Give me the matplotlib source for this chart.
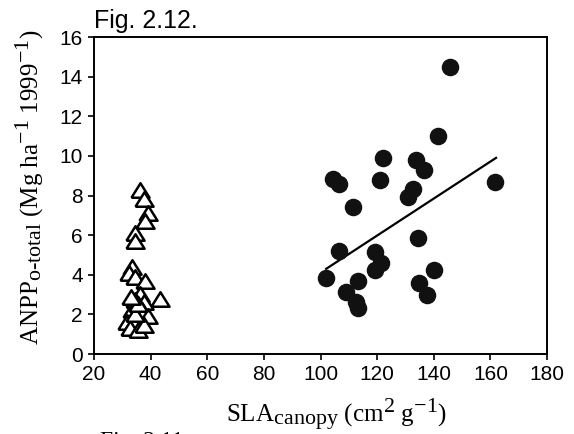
import numpy as np
import matplotlib
matplotlib.use("Agg")
import matplotlib.pyplot as plt
import matplotlib._mathtext as mt

# SLA canopy (x) vs ANPP o-total (y)
tri_sla = [36.1, 37.5, 39.2, 38.1, 34.5, 34.5, 33.4, 32.5, 34.5, 38.1, 43.4,
           36.3, 34.5, 37.5, 33.4, 36.9, 39.2, 31.6, 34.5, 32.8, 35.7, 37.5,
           34.5, 35.7, 33.0]
tri_anpp = [8.3, 7.8, 7.1, 6.7, 6.1, 5.7, 4.4, 4.1, 3.9, 3.7, 2.8,
            3.05, 2.75, 2.65, 2.2, 2.2, 1.9, 1.6, 1.6, 1.3, 1.2, 1.45,
            2.0, 2.5, 2.9]

dot_sla = [145.6, 141.4, 121.9, 133.7, 136.7, 104.4, 106.5, 120.9, 161.5,
           132.5, 130.8, 111.5, 106.5, 134.3, 119.2, 121.3, 119.2, 102.1,
           113.3, 140.0, 108.9, 112.4, 113.4, 134.9, 137.5]
dot_anpp = [14.5, 11.0, 9.9, 9.8, 9.3, 8.85, 8.6, 8.8, 8.7,
            8.35, 7.95, 7.4, 5.2, 5.85, 5.15, 4.6, 4.25, 3.85,
            3.7, 4.25, 3.15, 2.65, 2.3, 3.6, 3.0]

# fitted line for the circles (endpoints as drawn)
fit_sla = [102, 162]
fit_anpp = [4.3, 9.9]

# sub/superscripts in the original are only a bit smaller than the text
mt.SHRINK_FACTOR = 0.88

plt.rcParams['mathtext.fontset'] = 'custom'
plt.rcParams['mathtext.rm'] = 'Liberation Serif'
plt.rcParams['mathtext.it'] = 'Liberation Serif'
plt.rcParams['mathtext.default'] = 'regular'

fig = plt.figure(figsize=(5.74, 4.34), dpi=100)
ax = fig.add_axes([0.1638, 0.1843, 0.7892, 0.7304])

tri = [(-1, -0.8), (1, -0.8), (0, 0.8), (-1, -0.8)]
ax.scatter(tri_sla, tri_anpp, marker=tri, s=170, facecolors='white',
           edgecolors='black', linewidths=1.8, zorder=3)
ax.scatter(dot_sla, dot_anpp, marker='o', s=135, color='#111111', zorder=3)
ax.plot(fit_sla, fit_anpp, color='black', lw=1.6, zorder=2)

ax.set_xlim(20, 180)
ax.set_ylim(0, 16)
ax.set_xticks(np.arange(20, 181, 20))
ax.set_yticks(np.arange(0, 17, 2))
ax.tick_params(direction='out', length=4, width=1.2, labelsize=15, pad=4,
               top=False, right=False)
for lab in ax.get_xticklabels() + ax.get_yticklabels():
    lab.set_family('Liberation Sans')
for sp in ax.spines.values():
    sp.set_linewidth(1.4)

ax.set_xlabel('SLA$_{canopy}$ (cm$^2$ g$^{-1}$)', family='Liberation Serif',
              fontsize=18)
ax.xaxis.set_label_coords(0.536, -0.135)
ax.set_ylabel('ANPP$_{o‐total}$ (Mg ha$^{-1}$ 1999$^{-1}$)',
              family='Liberation Serif', fontsize=18)
ax.yaxis.set_label_coords(-0.105, 0.525)

fig.text(0.163, 1 - 28 / 434, 'Fig. 2.12.', family='Liberation Sans',
         fontsize=18, va='baseline')
fig.text(0.175, 0.007, 'Fig. 2.11.', family='Liberation Serif', fontsize=17,
         va='top')

fig.savefig('out.png', dpi=100)
